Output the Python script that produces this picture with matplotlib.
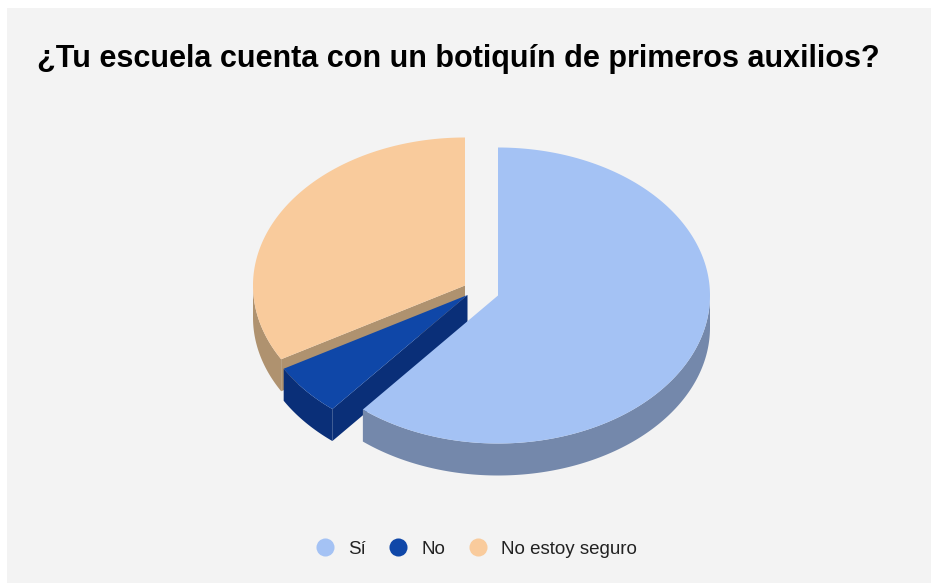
import numpy as np
import matplotlib
matplotlib.use('Agg')
import matplotlib.pyplot as plt
from matplotlib.patches import Polygon, Rectangle
from matplotlib.lines import Line2D

title = '¿Tu escuela cuenta con un botiquín de primeros auxilios?'
labels = ['Sí', 'No', 'No estoy seguro']
values = [61, 5.7, 33.3]
top_colors = ['#a4c2f4', '#0f47a8', '#f9cb9c']
side_colors = ['#7488ab', '#0a2f78', '#af926f']

W, H = 931, 583
# pixel position of each exploded slice's apex
apex_x = [498, 467.5, 465]
apex_y = [295.5, 295, 285.5]
rx, ry = 212, 148
depth = 32


def pt(ang, ox, oy):
    # angle in degrees, clockwise from twelve o'clock
    a = np.radians(ang)
    return ox + rx * np.sin(a), oy - ry * np.cos(a)


def arc(a0, a1, ox, oy):
    t = np.linspace(a0, a1, 200)
    return np.column_stack(pt(t, ox, oy))


plt.rcParams['font.family'] = ['Liberation Sans', 'DejaVu Sans']
fig = plt.figure(figsize=(W / 100, H / 100), dpi=100)
ax = fig.add_axes([0, 0, 1, 1])
ax.set_xlim(0, W)
ax.set_ylim(H, 0)
ax.axis('off')
ax.add_patch(Rectangle((7, 8), W - 7, H - 8, fc='#f3f3f3', ec='none', zorder=0))

fracs = np.array(values) / sum(values)
edges = np.concatenate([[0], np.cumsum(fracs) * 360])

# back slices first so the front ones overlap them
for i in [2, 1, 0]:
    a0, a1 = edges[i], edges[i + 1]
    ox, oy = apex_x[i], apex_y[i]
    z = 10 * (3 - i)

    # outer wall, only the part facing the viewer
    s0, s1 = max(a0, 90), min(a1, 270)
    if s1 > s0:
        top = arc(s0, s1, ox, oy)
        low = top[::-1] + [0, depth]
        ax.add_patch(Polygon(np.vstack([top, low]), fc=side_colors[i], ec='none', zorder=z))

    # cut walls
    for a in (a0, a1):
        ex, ey = pt(a, ox, oy)
        if (a == a0 and 0 < a < 180) or (a == a1 and 180 < a < 360):
            continue
        wall = [(ox, oy), (ex, ey), (ex, ey + depth), (ox, oy + depth)]
        ax.add_patch(Polygon(wall, fc=side_colors[i], ec='none', zorder=z))

    body = np.vstack([[(ox, oy)], arc(a0, a1, ox, oy)])
    ax.add_patch(Polygon(body, fc=top_colors[i], ec='none', zorder=z + 1))

ax.text(37, 59, title, fontsize=22, fontweight='bold', color='black', va='center', ha='left')

handles = [Line2D([], [], ls='none', marker='o', ms=13, mfc=c, mec='none') for c in top_colors]
ax.legend(handles, labels, ncol=3, frameon=False, loc='center', bbox_to_anchor=(473.5 / W, 1 - 549 / H),
          fontsize=13.5, labelcolor='#222222', handletextpad=0.48, columnspacing=0.99, handlelength=1.5,
          borderpad=0, borderaxespad=0)

fig.savefig('out.png', dpi=100)
